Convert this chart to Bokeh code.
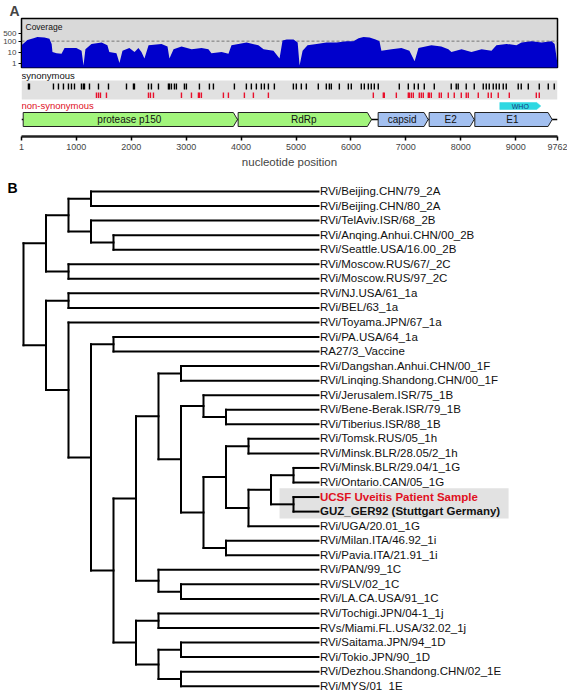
from bokeh.plotting import figure
from bokeh.layouts import column, row
from bokeh.models import Range1d, FixedTicker, Span, ColumnDataSource, NumeralTickFormatter
from bokeh.core.properties import value
from bokeh.embed import file_html
from bokeh.resources import INLINE

FONT = "Liberation Sans"

# ---------------- Panel A data ----------------
GENOME_LEN = 9762
AXIS_TICKS = [1, 1000, 2000, 3000, 4000, 5000, 6000, 7000, 8000, 9000, 9762]
COV_TICKS = [1, 10, 100, 500]

COV_POS = [1, 110, 220, 290, 420, 510, 550, 565, 640, 730,
           785, 1000, 1095, 1130, 1165, 1275, 1460, 1565, 1600, 1730,
           1785, 1840, 1965, 2060, 2130, 2185, 2240, 2315, 2550, 2660,
           2695, 2770, 2915, 3100, 3280, 3405, 3460, 3645, 3770, 3825,
           4100, 4315, 4410, 4590, 4700, 4755, 4830, 4955, 5030, 5065,
           5120, 5210, 5375, 5555, 5740, 5920, 6045, 6140, 6230, 6340,
           6450, 6520, 6555, 6740, 6920, 7065, 7160, 7230, 7465, 7645,
           7775, 7830, 8015, 8195, 8380, 8560, 8650, 8835, 9015, 9105,
           9290, 9470, 9655, 9710, 9762]
COV_DEPTH = [42, 128, 185, 238, 210, 164, 56, 10, 8, 7,
             24, 24, 13, 0.6, 18, 56, 75, 42, 10, 8,
             1, 13, 24, 10, 24, 10, 2.6, 42, 56, 32,
             2.6, 18, 32, 18, 24, 18, 8, 10, 7, 42,
             75, 42, 18, 13, 2.6, 113, 145, 145, 75, 0.6,
             13, 42, 56, 75, 75, 100, 100, 185, 238, 210,
             145, 100, 13, 18, 24, 13, 1.5, 24, 42, 32,
             18, 10, 18, 10, 18, 13, 42, 56, 42, 75,
             100, 75, 100, 56, 0.8]
COV_THRESHOLD = 100

SYN_POS = [127, 146, 583, 674, 765, 856, 911, 966, 1093, 1129, 1148, 1239, 1403, 1585,
           1913, 2040, 2058, 2313, 2367, 2495, 2677, 2695, 2731, 2786, 2822, 2968, 3004,
           3241, 3423, 3496, 3878, 4096, 4187, 4278, 4369, 4424, 4497, 4606, 4952, 5006,
           5097, 5188, 5406, 5552, 5607, 5643, 5789, 5953, 6007, 6189, 6244, 6317, 6371,
           6426, 6498, 6881, 7045, 7154, 7227, 7336, 7518, 7827, 7918, 7954, 8100, 8246,
           8410, 8465, 8519, 8592, 8647, 8701, 8774, 8829, 9047, 9102, 9230, 9430, 9594, 9703]
NONSYN_POS = [1366, 1403, 1439, 1548, 2313, 2349, 2404, 2914, 3096, 3223, 3241, 3277,
              3678, 3769, 4060, 4224, 4497, 6408, 6590, 6608, 6827, 7045, 7064, 7100,
              7136, 7245, 7282, 7318, 7409, 7427, 7464, 7609, 7646, 7773, 7882, 8010,
              8100, 8137, 8319, 8501, 8556, 8683, 8884, 9376, 9430]

GENE_NAMES = ["protease p150", "RdRp", "capsid", "E2", "E1"]
GENE_START = [32, 3946, 6496, 7425, 8256]
GENE_END = [3934, 6375, 7407, 8245, 9665]
GENE_COLORS = ["#a2f57c", "#a2f57c", "#a3c0f0", "#a3c0f0", "#a3c0f0"]
WHO_START, WHO_END = 8711, 9458

# ---------------- Panel B data ----------------
LEAVES = [
    "RVi/Beijing.CHN/79_2A", "RVi/Beijing.CHN/80_2A", "RVi/TelAviv.ISR/68_2B",
    "RVi/Anqing.Anhui.CHN/00_2B", "RVi/Seattle.USA/16.00_2B", "RVi/Moscow.RUS/67/_2C",
    "RVi/Moscow.RUS/97_2C", "RVi/NJ.USA/61_1a", "RVi/BEL/63_1a", "RVi/Toyama.JPN/67_1a",
    "RVi/PA.USA/64_1a", "RA27/3_Vaccine", "RVi/Dangshan.Anhui.CHN/00_1F",
    "RVi/Linqing.Shandong.CHN/00_1F", "RVi/Jerusalem.ISR/75_1B", "RVi/Bene-Berak.ISR/79_1B",
    "RVi/Tiberius.ISR/88_1B", "RVi/Tomsk.RUS/05_1h", "RVi/Minsk.BLR/28.05/2_1h",
    "RVi/Minsk.BLR/29.04/1_1G", "RVi/Ontario.CAN/05_1G", "UCSF Uveitis Patient Sample",
    "GUZ_GER92 (Stuttgart Germany)", "RVi/UGA/20.01_1G", "RVi/Milan.ITA/46.92_1i",
    "RVi/Pavia.ITA/21.91_1i", "RVi/PAN/99_1C", "RVi/SLV/02_1C", "RVi/LA.CA.USA/91_1C",
    "RVi/Tochigi.JPN/04-1_1j", "RVs/Miami.FL.USA/32.02_1j", "RVi/Saitama.JPN/94_1D",
    "RVi/Tokio.JPN/90_1D", "RVi/Dezhou.Shandong.CHN/02_1E", "RVi/MYS/01_1E",
]
SAMPLE_LEAF = 21
REFERENCE_LEAF = 22

CLADE_2 = (((0, 1), (2, (3, 4))), (5, 6))
CLADE_1G = (((19, 20), (21, 22)), 23)
CLADE_1B_ON = ((14, (15, 16)), (((17, 18), CLADE_1G), (24, 25)))
CLADE_1F_ON = ((12, 13), CLADE_1B_ON)
CLADE_1C = (26, (27, 28))
CLADE_1JDE = ((29, 30), ((31, 32), (33, 34)))
CLADE_1 = ((7, 8), (9, ((10, 11), ((CLADE_1F_ON, CLADE_1C), CLADE_1JDE))))
TREE = (CLADE_2, CLADE_1)

# ================= Figure A1: coverage =================
W = 567
H1 = 70
p1 = figure(width=W, height=H1, title="A", x_range=Range1d(1, GENOME_LEN),
            y_range=Range1d(0.395, 11640),
            y_axis_type="log", x_axis_location=None, output_backend="svg", toolbar_location=None,
            min_border_left=19, min_border_right=10, min_border_top=15, min_border_bottom=3)
p1.title.align = "left"
p1.title.offset = -12
p1.title.standoff = 0
p1.title.text_font = FONT
p1.title.text_font_size = "14px"
p1.title.text_font_style = "bold"
p1.title.text_line_height = 0.85
p1.background_fill_color = "#d9d9d9"
p1.border_fill_color = "white"
p1.outline_line_color = "black"
p1.outline_line_width = 1.5
p1.grid.visible = False
ya = p1.yaxis[0]
ya.ticker = FixedTicker(ticks=COV_TICKS)
ya.formatter = NumeralTickFormatter(format="0")
ya.major_label_text_font = FONT
ya.major_label_text_font_size = "8px"
ya.major_label_standoff = 2
ya.major_tick_out = 3
ya.major_tick_in = 0
ya.minor_tick_out = 0
ya.minor_tick_in = 0
ya.axis_line_color = "black"

p1.add_layout(Span(location=COV_THRESHOLD, dimension="width", line_color="#777777",
                   line_dash="3 2", line_width=1, level="underlay"))
p1.varea(x=COV_POS, y1=0.3, y2=COV_DEPTH, fill_color="#0000cc")
p1.text(x=[1], y=[11640], text=["Coverage"], x_offset=4, y_offset=3, text_baseline="top",
        text_font=value(FONT), text_font_size="8.5px", text_color="#111111")

# ================= Figure A2: variant tracks & genes =================
p2 = figure(width=W, height=102, x_range=p1.x_range, y_range=Range1d(136, 70),
            y_axis_location=None, output_backend="svg", toolbar_location=None,
            min_border_left=19, min_border_right=10, min_border_top=0, min_border_bottom=36)
p2.outline_line_color = None
p2.grid.visible = False
xa = p2.xaxis[0]
xa.ticker = FixedTicker(ticks=AXIS_TICKS)
xa.formatter = NumeralTickFormatter(format="0")
xa.axis_line_width = 2.5
xa.axis_line_color = "#222222"
xa.major_tick_line_width = 1.5
xa.major_tick_out = 4
xa.major_tick_in = 0
xa.minor_tick_out = 0
xa.minor_tick_in = 0
xa.major_label_standoff = 3
xa.major_label_text_font = FONT
xa.major_label_text_font_size = "9px"
xa.axis_label = "nucleotide position"
xa.axis_label_text_font = FONT
xa.axis_label_text_font_style = "normal"
xa.axis_label_text_font_size = "11.5px"
xa.axis_label_standoff = 3

p2.quad(left=1, right=GENOME_LEN, top=80, bottom=99, fill_color="#e1e1e1", line_color=None)
p2.segment(x0=SYN_POS, y0=83, x1=SYN_POS, y1=89, line_color="black", line_width=1.4)
p2.segment(x0=NONSYN_POS, y0=92, x1=NONSYN_POS, y1=97.5, line_color="#e8102c", line_width=1.4)
p2.text(x=[1], y=[74.5], text=["synonymous"], text_baseline="middle",
        text_font=value(FONT), text_font_size="9.5px", text_color="#111111")
p2.text(x=[1], y=[105], text=["non-synonymous"], text_baseline="middle",
        text_font=value(FONT), text_font_size="9.5px", text_color="#e0101e")

# WHO window arrow
ah = 75
p2.patch(x=[WHO_START, WHO_END - ah, WHO_END, WHO_END - ah, WHO_START],
         y=[102, 102, 105.5, 109, 109], fill_color="#2fd8e2", line_color="#2fd8e2", line_width=0.5)
p2.text(x=[(WHO_START + WHO_END) / 2], y=[105.5], text=["WHO"], text_align="center",
        text_baseline="middle", text_font=value(FONT), text_font_size="7px", text_color="#153a7a")

# genome backbone + genes
p2.segment(x0=[1], y0=[119], x1=[GENOME_LEN], y1=[119], line_color="black", line_width=1.5)
gxs = [[s, e - ah, e, e - ah, s] for s, e in zip(GENE_START, GENE_END)]
gys = [[112, 112, 119, 126, 126] for _ in GENE_START]
p2.patches(xs=gxs, ys=gys, fill_color=GENE_COLORS, line_color="#222222", line_width=1)
p2.text(x=[(s + e - ah / 2) / 2 for s, e in zip(GENE_START, GENE_END)], y=[119] * len(GENE_NAMES),
        text=GENE_NAMES, text_align="center", text_baseline="middle",
        text_font=value(FONT), text_font_size="10px", text_color="#111111")

# ================= Figure B: cladogram =================
LEAF_X = 13.11
SP = 14.55
top_page, bot_page, first_leaf = 172, 691, 191
root_px, level_px = 23.0, 22.5
BW = 19  # narrow strip holding the panel letter
HB = bot_page - top_page

pB = figure(width=BW, height=HB, x_range=Range1d(0, BW), y_range=Range1d(HB, 0),
            x_axis_location=None, y_axis_location=None, output_backend="svg",
            toolbar_location=None, min_border=0)
pB.outline_line_color = None
pB.grid.visible = False
pB.text(x=[7], y=[187 - top_page], text=["B"], text_baseline="middle",
        text_font=value(FONT), text_font_size="14px", text_font_style="bold")

p3 = figure(width=W - BW, height=HB,
            x_range=Range1d((BW - root_px) / level_px, (W - root_px) / level_px),
            y_range=Range1d((bot_page - first_leaf) / SP, (top_page - first_leaf) / SP),
            x_axis_location=None, y_axis_location=None, output_backend="svg",
            toolbar_location=None, min_border=0)
p3.outline_line_color = None
p3.grid.visible = False

segs = {"x0": [], "y0": [], "x1": [], "y1": []}


def place(node, depth):
    if isinstance(node, int):
        return float(node), LEAF_X
    ys = []
    for child in node:
        cy, cx = place(child, depth + 1)
        segs["x0"].append(depth); segs["y0"].append(cy)
        segs["x1"].append(cx); segs["y1"].append(cy)
        ys.append(cy)
    segs["x0"].append(depth); segs["y0"].append(min(ys))
    segs["x1"].append(depth); segs["y1"].append(max(ys))
    return (min(ys) + max(ys)) / 2.0, depth


place(TREE, 0)

# highlight box behind the sample and its closest reference
p3.quad(left=11.38, right=21.56, top=SAMPLE_LEAF - 0.6, bottom=REFERENCE_LEAF + 0.48,
        fill_color="#e2e2e2", line_color=None)
p3.segment(x0="x0", y0="y0", x1="x1", y1="y1", source=ColumnDataSource(segs),
           line_color="black", line_width=2, line_cap="square")

colors = ["#111111"] * len(LEAVES)
styles = ["normal"] * len(LEAVES)
colors[SAMPLE_LEAF] = "#e0101e"
styles[SAMPLE_LEAF] = "bold"
styles[REFERENCE_LEAF] = "bold"
src = ColumnDataSource(dict(x=[LEAF_X] * len(LEAVES), y=list(range(len(LEAVES))),
                            t=LEAVES, c=colors, s=styles))
p3.text(x="x", y="y", text="t", text_color="c", text_font_style="s", source=src,
        x_offset=1.5, y_offset=-0.5, text_baseline="middle",
        text_font=value(FONT), text_font_size="11.5px")

layout = column(p1, p2, row(pB, p3))
open("out.html", "w").write(file_html(layout, INLINE))
